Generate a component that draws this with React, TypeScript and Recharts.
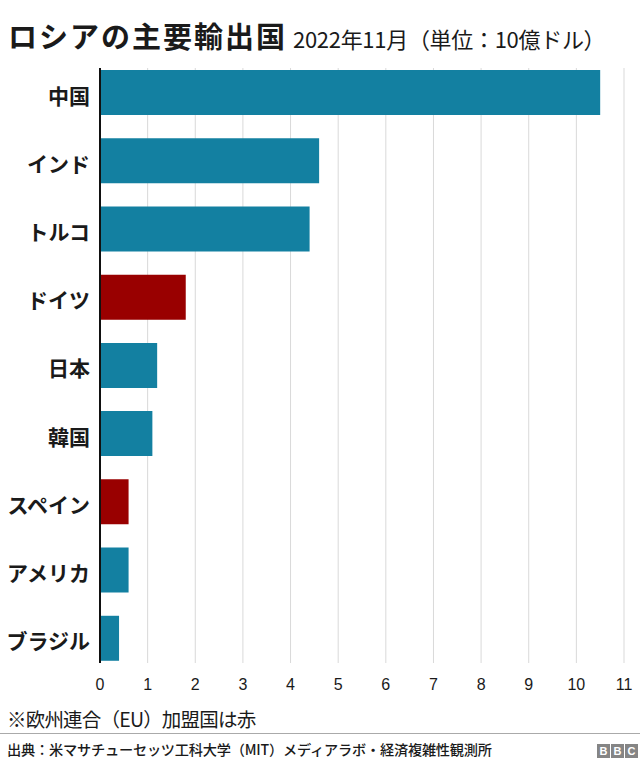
import { BarChart, Bar, XAxis, YAxis, CartesianGrid, Cell } from "recharts";

const countries = ["中国", "インド", "トルコ", "ドイツ", "日本", "韓国", "スペイン", "アメリカ", "ブラジル"];
const exportValues = [10.5, 4.6, 4.4, 1.8, 1.2, 1.1, 0.6, 0.6, 0.4];
const euMembers = ["ドイツ", "スペイン"];
const xTicks = [0, 1, 2, 3, 4, 5, 6, 7, 8, 9, 10, 11];

const data = countries.map((country, i) => ({ country, value: exportValues[i] }));

const TEAL = "#1380a1";
const RED = "#990000";
const JP = "'Noto Sans CJK JP', 'Noto Sans', sans-serif";

function BbcLogo() {
  return (
    <div style={{ position: "absolute", left: 597, top: 744, display: "flex", gap: 1 }}>
      {["B", "B", "C"].map((l, i) => (
        <div
          key={i}
          style={{
            width: 13,
            height: 14,
            background: "#858585",
            color: "#fff",
            fontFamily: "'Liberation Sans', sans-serif",
            fontWeight: 700,
            fontSize: 11,
            lineHeight: "14px",
            textAlign: "center",
          }}
        >
          {l}
        </div>
      ))}
    </div>
  );
}

export default function App() {
  return (
    <div
      style={{
        position: "absolute",
        left: 0,
        top: 0,
        width: 640,
        height: 763,
        background: "#fff",
        fontFamily: JP,
        color: "#1a1a1a",
        overflow: "hidden",
      }}
    >
      <div
        style={{
          position: "absolute",
          left: 8,
          top: 14,
          display: "flex",
          alignItems: "baseline",
          whiteSpace: "nowrap",
        }}
      >
        <span style={{ fontSize: 29, fontWeight: 700, letterSpacing: 2 }}>ロシアの主要輸出国</span>
        <span style={{ fontSize: 22, marginLeft: 6, letterSpacing: -0.3 }}>2022年11月（単位：10億ドル）</span>
      </div>

      <div style={{ position: "absolute", top: 0, left: 0 }}>
        <BarChart
          layout="vertical"
          width={640}
          height={702}
          data={data}
          margin={{ top: 58, right: 16, bottom: 0, left: 0 }}
        >
          <CartesianGrid horizontal={false} stroke="#d9d9d9" y={68} height={595} />
          <XAxis
            type="number"
            domain={[0, 11]}
            ticks={xTicks}
            interval={0}
            axisLine={false}
            tickLine={false}
            tickSize={0}
            tickMargin={7}
            height={30}
            tick={{ fill: "#1a1a1a", fontSize: 16, fontFamily: "'Liberation Sans', sans-serif" }}
          />
          <YAxis
            type="category"
            dataKey="country"
            width={100}
            axisLine={false}
            tickLine={false}
            tickSize={0}
            tickMargin={10}
            interval={0}
            tick={{ fill: "#1a1a1a", fontSize: 21, fontWeight: 700, fontFamily: JP, dy: 4 }}
          />
          <Bar dataKey="value" barSize={45} isAnimationActive={false}>
            {data.map((d) => (
              <Cell key={d.country} fill={euMembers.includes(d.country) ? RED : TEAL} />
            ))}
          </Bar>
        </BarChart>
      </div>

      <div style={{ position: "absolute", left: 99, top: 68, width: 2, height: 595, background: "#111" }} />

      <div style={{ position: "absolute", left: 7, top: 704, fontSize: 19.5, whiteSpace: "nowrap", letterSpacing: -0.8 }}>
        ※欧州連合（EU）加盟国は赤
      </div>

      <div style={{ position: "absolute", left: 0, top: 733, width: 640, height: 1, background: "#aaa" }} />

      <div
        style={{
          position: "absolute",
          left: 7,
          top: 739,
          fontSize: 14.2,
          fontWeight: 500,
          whiteSpace: "nowrap",
          letterSpacing: -0.2,
        }}
      >
        出典：米マサチューセッツ工科大学（MIT）メディアラボ・経済複雑性観測所
      </div>

      <BbcLogo />
    </div>
  );
}
